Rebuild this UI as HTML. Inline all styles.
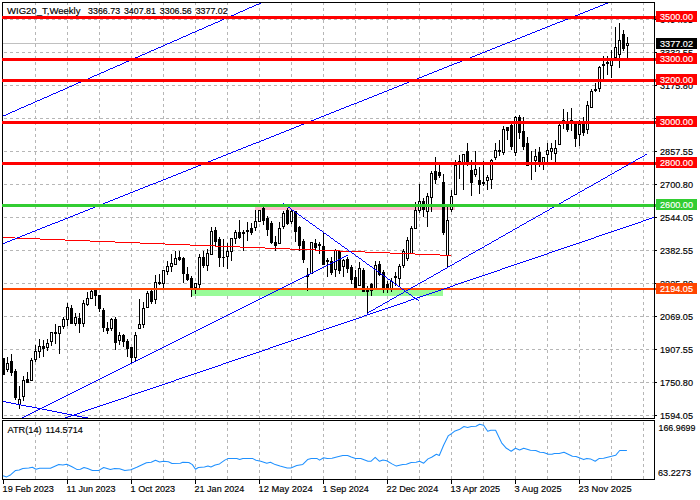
<!DOCTYPE html>
<html><head><meta charset="utf-8"><title>WIG20_T Weekly</title>
<style>html,body{margin:0;padding:0;background:#fff;}svg{display:block;}text{font-family:"Liberation Sans",sans-serif;font-size:9.8px;stroke-width:0.16px;}</style>
</head><body>
<svg width="700" height="500" viewBox="0 0 700 500">
<rect x="0" y="0" width="700" height="500" fill="#ffffff"/>
<g shape-rendering="crispEdges" stroke="#b6b6b6" stroke-width="1" fill="none">
<line x1="35.5" y1="2" x2="35.5" y2="418" stroke-dasharray="3 3"/>
<line x1="35.5" y1="422" x2="35.5" y2="479" stroke-dasharray="3 3"/>
<line x1="67.5" y1="2" x2="67.5" y2="418" stroke-dasharray="3 3"/>
<line x1="67.5" y1="422" x2="67.5" y2="479" stroke-dasharray="3 3"/>
<line x1="99.5" y1="2" x2="99.5" y2="418" stroke-dasharray="3 3"/>
<line x1="99.5" y1="422" x2="99.5" y2="479" stroke-dasharray="3 3"/>
<line x1="131.5" y1="2" x2="131.5" y2="418" stroke-dasharray="3 3"/>
<line x1="131.5" y1="422" x2="131.5" y2="479" stroke-dasharray="3 3"/>
<line x1="163.5" y1="2" x2="163.5" y2="418" stroke-dasharray="3 3"/>
<line x1="163.5" y1="422" x2="163.5" y2="479" stroke-dasharray="3 3"/>
<line x1="195.5" y1="2" x2="195.5" y2="418" stroke-dasharray="3 3"/>
<line x1="195.5" y1="422" x2="195.5" y2="479" stroke-dasharray="3 3"/>
<line x1="227.5" y1="2" x2="227.5" y2="418" stroke-dasharray="3 3"/>
<line x1="227.5" y1="422" x2="227.5" y2="479" stroke-dasharray="3 3"/>
<line x1="259.5" y1="2" x2="259.5" y2="418" stroke-dasharray="3 3"/>
<line x1="259.5" y1="422" x2="259.5" y2="479" stroke-dasharray="3 3"/>
<line x1="291.5" y1="2" x2="291.5" y2="418" stroke-dasharray="3 3"/>
<line x1="291.5" y1="422" x2="291.5" y2="479" stroke-dasharray="3 3"/>
<line x1="323.5" y1="2" x2="323.5" y2="418" stroke-dasharray="3 3"/>
<line x1="323.5" y1="422" x2="323.5" y2="479" stroke-dasharray="3 3"/>
<line x1="355.5" y1="2" x2="355.5" y2="418" stroke-dasharray="3 3"/>
<line x1="355.5" y1="422" x2="355.5" y2="479" stroke-dasharray="3 3"/>
<line x1="387.5" y1="2" x2="387.5" y2="418" stroke-dasharray="3 3"/>
<line x1="387.5" y1="422" x2="387.5" y2="479" stroke-dasharray="3 3"/>
<line x1="419.5" y1="2" x2="419.5" y2="418" stroke-dasharray="3 3"/>
<line x1="419.5" y1="422" x2="419.5" y2="479" stroke-dasharray="3 3"/>
<line x1="451.5" y1="2" x2="451.5" y2="418" stroke-dasharray="3 3"/>
<line x1="451.5" y1="422" x2="451.5" y2="479" stroke-dasharray="3 3"/>
<line x1="483.5" y1="2" x2="483.5" y2="418" stroke-dasharray="3 3"/>
<line x1="483.5" y1="422" x2="483.5" y2="479" stroke-dasharray="3 3"/>
<line x1="515.5" y1="2" x2="515.5" y2="418" stroke-dasharray="3 3"/>
<line x1="515.5" y1="422" x2="515.5" y2="479" stroke-dasharray="3 3"/>
<line x1="547.5" y1="2" x2="547.5" y2="418" stroke-dasharray="3 3"/>
<line x1="547.5" y1="422" x2="547.5" y2="479" stroke-dasharray="3 3"/>
<line x1="579.5" y1="2" x2="579.5" y2="418" stroke-dasharray="3 3"/>
<line x1="579.5" y1="422" x2="579.5" y2="479" stroke-dasharray="3 3"/>
<line x1="611.5" y1="2" x2="611.5" y2="418" stroke-dasharray="3 3"/>
<line x1="611.5" y1="422" x2="611.5" y2="479" stroke-dasharray="3 3"/>
<line x1="643.5" y1="2" x2="643.5" y2="418" stroke-dasharray="3 3"/>
<line x1="643.5" y1="422" x2="643.5" y2="479" stroke-dasharray="3 3"/>
<line x1="4" y1="19.5" x2="654" y2="19.5" stroke-dasharray="3 3"/>
<line x1="4" y1="52.5" x2="654" y2="52.5" stroke-dasharray="3 3"/>
<line x1="4" y1="85.5" x2="654" y2="85.5" stroke-dasharray="3 3"/>
<line x1="4" y1="118.5" x2="654" y2="118.5" stroke-dasharray="3 3"/>
<line x1="4" y1="151.5" x2="654" y2="151.5" stroke-dasharray="3 3"/>
<line x1="4" y1="184.5" x2="654" y2="184.5" stroke-dasharray="3 3"/>
<line x1="4" y1="217.5" x2="654" y2="217.5" stroke-dasharray="3 3"/>
<line x1="4" y1="250.5" x2="654" y2="250.5" stroke-dasharray="3 3"/>
<line x1="4" y1="283.5" x2="654" y2="283.5" stroke-dasharray="3 3"/>
<line x1="4" y1="316.5" x2="654" y2="316.5" stroke-dasharray="3 3"/>
<line x1="4" y1="349.5" x2="654" y2="349.5" stroke-dasharray="3 3"/>
<line x1="4" y1="382.5" x2="654" y2="382.5" stroke-dasharray="3 3"/>
<line x1="4" y1="415.5" x2="654" y2="415.5" stroke-dasharray="3 3"/>
</g>
<rect x="3" y="43" width="651" height="1" fill="#c0c0c0" shape-rendering="crispEdges"/>
<g shape-rendering="crispEdges">
<rect x="255" y="207" width="200" height="3" fill="#ffb9c9"/>
<rect x="192" y="290" width="251" height="6" fill="#98fb98"/>
</g>
<g shape-rendering="crispEdges">
<rect x="3" y="358" width="1" height="17" fill="#000"/>
<rect x="2" y="358" width="3" height="17" fill="#000"/>
<rect x="7" y="357" width="1" height="15" fill="#000"/>
<rect x="6" y="363" width="3" height="7" fill="#000"/>
<rect x="7" y="364" width="1" height="5" fill="#fff"/>
<rect x="11" y="354" width="1" height="22" fill="#000"/>
<rect x="10" y="361" width="3" height="12" fill="#000"/>
<rect x="15" y="369" width="1" height="31" fill="#000"/>
<rect x="14" y="371" width="3" height="27" fill="#000"/>
<rect x="19" y="386" width="1" height="23" fill="#000"/>
<rect x="18" y="399" width="3" height="6" fill="#000"/>
<rect x="19" y="400" width="1" height="4" fill="#fff"/>
<rect x="23" y="376" width="1" height="25" fill="#000"/>
<rect x="22" y="380" width="3" height="17" fill="#000"/>
<rect x="23" y="381" width="1" height="15" fill="#fff"/>
<rect x="27" y="372" width="1" height="11" fill="#000"/>
<rect x="26" y="379" width="3" height="4" fill="#000"/>
<rect x="31" y="358" width="1" height="23" fill="#000"/>
<rect x="30" y="360" width="3" height="21" fill="#000"/>
<rect x="31" y="361" width="1" height="19" fill="#fff"/>
<rect x="35" y="345" width="1" height="17" fill="#000"/>
<rect x="34" y="351" width="3" height="9" fill="#000"/>
<rect x="35" y="352" width="1" height="7" fill="#fff"/>
<rect x="39" y="339" width="1" height="19" fill="#000"/>
<rect x="38" y="346" width="3" height="6" fill="#000"/>
<rect x="39" y="347" width="1" height="4" fill="#fff"/>
<rect x="43" y="340" width="1" height="17" fill="#000"/>
<rect x="42" y="346" width="3" height="3" fill="#000"/>
<rect x="47" y="339" width="1" height="12" fill="#000"/>
<rect x="46" y="343" width="3" height="5" fill="#000"/>
<rect x="47" y="344" width="1" height="3" fill="#fff"/>
<rect x="51" y="332" width="1" height="14" fill="#000"/>
<rect x="50" y="332" width="3" height="10" fill="#000"/>
<rect x="51" y="333" width="1" height="8" fill="#fff"/>
<rect x="55" y="324" width="1" height="20" fill="#000"/>
<rect x="54" y="332" width="3" height="2" fill="#000"/>
<rect x="59" y="326" width="1" height="28" fill="#000"/>
<rect x="58" y="326" width="3" height="8" fill="#000"/>
<rect x="59" y="327" width="1" height="6" fill="#fff"/>
<rect x="63" y="317" width="1" height="12" fill="#000"/>
<rect x="62" y="319" width="3" height="8" fill="#000"/>
<rect x="63" y="320" width="1" height="6" fill="#fff"/>
<rect x="67" y="303" width="1" height="23" fill="#000"/>
<rect x="66" y="307" width="3" height="13" fill="#000"/>
<rect x="67" y="308" width="1" height="11" fill="#fff"/>
<rect x="71" y="305" width="1" height="19" fill="#000"/>
<rect x="70" y="308" width="3" height="16" fill="#000"/>
<rect x="75" y="313" width="1" height="13" fill="#000"/>
<rect x="74" y="317" width="3" height="7" fill="#000"/>
<rect x="75" y="318" width="1" height="5" fill="#fff"/>
<rect x="79" y="313" width="1" height="20" fill="#000"/>
<rect x="78" y="318" width="3" height="6" fill="#000"/>
<rect x="83" y="300" width="1" height="27" fill="#000"/>
<rect x="82" y="303" width="3" height="21" fill="#000"/>
<rect x="83" y="304" width="1" height="19" fill="#fff"/>
<rect x="87" y="292" width="1" height="14" fill="#000"/>
<rect x="86" y="298" width="3" height="7" fill="#000"/>
<rect x="87" y="299" width="1" height="5" fill="#fff"/>
<rect x="91" y="290" width="1" height="9" fill="#000"/>
<rect x="90" y="291" width="3" height="8" fill="#000"/>
<rect x="91" y="292" width="1" height="6" fill="#fff"/>
<rect x="95" y="289" width="1" height="17" fill="#000"/>
<rect x="94" y="290" width="3" height="6" fill="#000"/>
<rect x="99" y="295" width="1" height="17" fill="#000"/>
<rect x="98" y="295" width="3" height="14" fill="#000"/>
<rect x="103" y="308" width="1" height="24" fill="#000"/>
<rect x="102" y="310" width="3" height="18" fill="#000"/>
<rect x="107" y="322" width="1" height="12" fill="#000"/>
<rect x="106" y="328" width="3" height="3" fill="#000"/>
<rect x="111" y="318" width="1" height="13" fill="#000"/>
<rect x="110" y="319" width="3" height="10" fill="#000"/>
<rect x="111" y="320" width="1" height="8" fill="#fff"/>
<rect x="115" y="317" width="1" height="33" fill="#000"/>
<rect x="114" y="319" width="3" height="24" fill="#000"/>
<rect x="119" y="332" width="1" height="13" fill="#000"/>
<rect x="118" y="335" width="3" height="6" fill="#000"/>
<rect x="119" y="336" width="1" height="4" fill="#fff"/>
<rect x="123" y="334" width="1" height="13" fill="#000"/>
<rect x="122" y="335" width="3" height="7" fill="#000"/>
<rect x="127" y="339" width="1" height="18" fill="#000"/>
<rect x="126" y="341" width="3" height="8" fill="#000"/>
<rect x="131" y="347" width="1" height="16" fill="#000"/>
<rect x="130" y="347" width="3" height="11" fill="#000"/>
<rect x="135" y="332" width="1" height="29" fill="#000"/>
<rect x="134" y="335" width="3" height="23" fill="#000"/>
<rect x="135" y="336" width="1" height="21" fill="#fff"/>
<rect x="139" y="299" width="1" height="30" fill="#000"/>
<rect x="138" y="324" width="3" height="5" fill="#000"/>
<rect x="139" y="325" width="1" height="3" fill="#fff"/>
<rect x="143" y="302" width="1" height="26" fill="#000"/>
<rect x="142" y="308" width="3" height="17" fill="#000"/>
<rect x="143" y="309" width="1" height="15" fill="#fff"/>
<rect x="147" y="291" width="1" height="17" fill="#000"/>
<rect x="146" y="293" width="3" height="15" fill="#000"/>
<rect x="147" y="294" width="1" height="13" fill="#fff"/>
<rect x="151" y="290" width="1" height="14" fill="#000"/>
<rect x="150" y="291" width="3" height="11" fill="#000"/>
<rect x="155" y="275" width="1" height="29" fill="#000"/>
<rect x="154" y="282" width="3" height="18" fill="#000"/>
<rect x="155" y="283" width="1" height="16" fill="#fff"/>
<rect x="159" y="274" width="1" height="11" fill="#000"/>
<rect x="158" y="282" width="3" height="2" fill="#000"/>
<rect x="163" y="270" width="1" height="18" fill="#000"/>
<rect x="162" y="270" width="3" height="14" fill="#000"/>
<rect x="163" y="271" width="1" height="12" fill="#fff"/>
<rect x="167" y="261" width="1" height="14" fill="#000"/>
<rect x="166" y="266" width="3" height="6" fill="#000"/>
<rect x="167" y="267" width="1" height="4" fill="#fff"/>
<rect x="171" y="254" width="1" height="18" fill="#000"/>
<rect x="170" y="263" width="3" height="4" fill="#000"/>
<rect x="171" y="264" width="1" height="2" fill="#fff"/>
<rect x="175" y="251" width="1" height="14" fill="#000"/>
<rect x="174" y="258" width="3" height="7" fill="#000"/>
<rect x="175" y="259" width="1" height="5" fill="#fff"/>
<rect x="179" y="251" width="1" height="10" fill="#000"/>
<rect x="178" y="257" width="3" height="3" fill="#000"/>
<rect x="183" y="257" width="1" height="26" fill="#000"/>
<rect x="182" y="258" width="3" height="16" fill="#000"/>
<rect x="187" y="267" width="1" height="14" fill="#000"/>
<rect x="186" y="274" width="3" height="6" fill="#000"/>
<rect x="191" y="276" width="1" height="21" fill="#000"/>
<rect x="190" y="278" width="3" height="11" fill="#000"/>
<rect x="195" y="283" width="1" height="11" fill="#000"/>
<rect x="194" y="283" width="3" height="5" fill="#000"/>
<rect x="195" y="284" width="1" height="3" fill="#fff"/>
<rect x="199" y="254" width="1" height="34" fill="#000"/>
<rect x="198" y="257" width="3" height="28" fill="#000"/>
<rect x="199" y="258" width="1" height="26" fill="#fff"/>
<rect x="203" y="251" width="1" height="17" fill="#000"/>
<rect x="202" y="257" width="3" height="9" fill="#000"/>
<rect x="207" y="249" width="1" height="22" fill="#000"/>
<rect x="206" y="253" width="3" height="13" fill="#000"/>
<rect x="207" y="254" width="1" height="11" fill="#fff"/>
<rect x="211" y="227" width="1" height="28" fill="#000"/>
<rect x="210" y="231" width="3" height="24" fill="#000"/>
<rect x="211" y="232" width="1" height="22" fill="#fff"/>
<rect x="215" y="227" width="1" height="20" fill="#000"/>
<rect x="214" y="230" width="3" height="12" fill="#000"/>
<rect x="219" y="237" width="1" height="30" fill="#000"/>
<rect x="218" y="239" width="3" height="19" fill="#000"/>
<rect x="223" y="239" width="1" height="28" fill="#000"/>
<rect x="222" y="257" width="3" height="1" fill="#000"/>
<rect x="227" y="243" width="1" height="26" fill="#000"/>
<rect x="226" y="251" width="3" height="6" fill="#000"/>
<rect x="227" y="252" width="1" height="4" fill="#fff"/>
<rect x="231" y="238" width="1" height="23" fill="#000"/>
<rect x="230" y="238" width="3" height="14" fill="#000"/>
<rect x="231" y="239" width="1" height="12" fill="#fff"/>
<rect x="235" y="230" width="1" height="14" fill="#000"/>
<rect x="234" y="232" width="3" height="7" fill="#000"/>
<rect x="235" y="233" width="1" height="5" fill="#fff"/>
<rect x="239" y="220" width="1" height="19" fill="#000"/>
<rect x="238" y="232" width="3" height="6" fill="#000"/>
<rect x="243" y="230" width="1" height="21" fill="#000"/>
<rect x="242" y="232" width="3" height="2" fill="#000"/>
<rect x="247" y="222" width="1" height="19" fill="#000"/>
<rect x="246" y="230" width="3" height="2" fill="#000"/>
<rect x="251" y="223" width="1" height="12" fill="#000"/>
<rect x="250" y="228" width="3" height="5" fill="#000"/>
<rect x="255" y="210" width="1" height="21" fill="#000"/>
<rect x="254" y="221" width="3" height="7" fill="#000"/>
<rect x="255" y="222" width="1" height="5" fill="#fff"/>
<rect x="259" y="210" width="1" height="12" fill="#000"/>
<rect x="258" y="210" width="3" height="12" fill="#000"/>
<rect x="259" y="211" width="1" height="10" fill="#fff"/>
<rect x="263" y="207" width="1" height="18" fill="#000"/>
<rect x="262" y="208" width="3" height="13" fill="#000"/>
<rect x="267" y="216" width="1" height="20" fill="#000"/>
<rect x="266" y="218" width="3" height="12" fill="#000"/>
<rect x="271" y="221" width="1" height="23" fill="#000"/>
<rect x="270" y="223" width="3" height="20" fill="#000"/>
<rect x="275" y="236" width="1" height="15" fill="#000"/>
<rect x="274" y="242" width="3" height="4" fill="#000"/>
<rect x="279" y="222" width="1" height="22" fill="#000"/>
<rect x="278" y="228" width="3" height="16" fill="#000"/>
<rect x="279" y="229" width="1" height="14" fill="#fff"/>
<rect x="283" y="211" width="1" height="18" fill="#000"/>
<rect x="282" y="213" width="3" height="14" fill="#000"/>
<rect x="283" y="214" width="1" height="12" fill="#fff"/>
<rect x="287" y="208" width="1" height="17" fill="#000"/>
<rect x="286" y="210" width="3" height="14" fill="#000"/>
<rect x="291" y="210" width="1" height="14" fill="#000"/>
<rect x="290" y="211" width="3" height="11" fill="#000"/>
<rect x="291" y="212" width="1" height="9" fill="#fff"/>
<rect x="295" y="211" width="1" height="31" fill="#000"/>
<rect x="294" y="211" width="3" height="21" fill="#000"/>
<rect x="299" y="226" width="1" height="25" fill="#000"/>
<rect x="298" y="227" width="3" height="19" fill="#000"/>
<rect x="303" y="239" width="1" height="24" fill="#000"/>
<rect x="302" y="241" width="3" height="19" fill="#000"/>
<rect x="307" y="268" width="1" height="23" fill="#000"/>
<rect x="306" y="275" width="3" height="2" fill="#000"/>
<rect x="311" y="242" width="1" height="32" fill="#000"/>
<rect x="310" y="242" width="3" height="32" fill="#000"/>
<rect x="311" y="243" width="1" height="30" fill="#fff"/>
<rect x="315" y="239" width="1" height="11" fill="#000"/>
<rect x="314" y="243" width="3" height="5" fill="#000"/>
<rect x="319" y="242" width="1" height="12" fill="#000"/>
<rect x="318" y="244" width="3" height="2" fill="#000"/>
<rect x="323" y="233" width="1" height="32" fill="#000"/>
<rect x="322" y="246" width="3" height="19" fill="#000"/>
<rect x="327" y="258" width="1" height="19" fill="#000"/>
<rect x="326" y="260" width="3" height="2" fill="#000"/>
<rect x="331" y="257" width="1" height="18" fill="#000"/>
<rect x="330" y="261" width="3" height="12" fill="#000"/>
<rect x="335" y="249" width="1" height="28" fill="#000"/>
<rect x="334" y="250" width="3" height="20" fill="#000"/>
<rect x="335" y="251" width="1" height="18" fill="#fff"/>
<rect x="339" y="251" width="1" height="23" fill="#000"/>
<rect x="338" y="251" width="3" height="20" fill="#000"/>
<rect x="343" y="259" width="1" height="18" fill="#000"/>
<rect x="342" y="260" width="3" height="7" fill="#000"/>
<rect x="343" y="261" width="1" height="5" fill="#fff"/>
<rect x="347" y="257" width="1" height="16" fill="#000"/>
<rect x="346" y="259" width="3" height="10" fill="#000"/>
<rect x="351" y="265" width="1" height="19" fill="#000"/>
<rect x="350" y="267" width="3" height="13" fill="#000"/>
<rect x="355" y="270" width="1" height="19" fill="#000"/>
<rect x="354" y="277" width="3" height="12" fill="#000"/>
<rect x="359" y="262" width="1" height="24" fill="#000"/>
<rect x="358" y="268" width="3" height="18" fill="#000"/>
<rect x="359" y="269" width="1" height="16" fill="#fff"/>
<rect x="363" y="268" width="1" height="24" fill="#000"/>
<rect x="362" y="270" width="3" height="22" fill="#000"/>
<rect x="367" y="286" width="1" height="27" fill="#000"/>
<rect x="366" y="290" width="3" height="2" fill="#000"/>
<rect x="371" y="283" width="1" height="13" fill="#000"/>
<rect x="370" y="284" width="3" height="7" fill="#000"/>
<rect x="375" y="261" width="1" height="28" fill="#000"/>
<rect x="374" y="265" width="3" height="24" fill="#000"/>
<rect x="375" y="266" width="1" height="22" fill="#fff"/>
<rect x="379" y="261" width="1" height="15" fill="#000"/>
<rect x="378" y="264" width="3" height="11" fill="#000"/>
<rect x="383" y="270" width="1" height="23" fill="#000"/>
<rect x="382" y="272" width="3" height="17" fill="#000"/>
<rect x="387" y="281" width="1" height="12" fill="#000"/>
<rect x="386" y="284" width="3" height="5" fill="#000"/>
<rect x="391" y="278" width="1" height="14" fill="#000"/>
<rect x="390" y="281" width="3" height="8" fill="#000"/>
<rect x="391" y="282" width="1" height="6" fill="#fff"/>
<rect x="395" y="272" width="1" height="14" fill="#000"/>
<rect x="394" y="276" width="3" height="2" fill="#000"/>
<rect x="399" y="264" width="1" height="23" fill="#000"/>
<rect x="398" y="266" width="3" height="13" fill="#000"/>
<rect x="399" y="267" width="1" height="11" fill="#fff"/>
<rect x="403" y="249" width="1" height="19" fill="#000"/>
<rect x="402" y="251" width="3" height="15" fill="#000"/>
<rect x="403" y="252" width="1" height="13" fill="#fff"/>
<rect x="407" y="237" width="1" height="24" fill="#000"/>
<rect x="406" y="240" width="3" height="19" fill="#000"/>
<rect x="407" y="241" width="1" height="17" fill="#fff"/>
<rect x="411" y="226" width="1" height="28" fill="#000"/>
<rect x="410" y="228" width="3" height="26" fill="#000"/>
<rect x="411" y="229" width="1" height="24" fill="#fff"/>
<rect x="415" y="202" width="1" height="27" fill="#000"/>
<rect x="414" y="210" width="3" height="19" fill="#000"/>
<rect x="415" y="211" width="1" height="17" fill="#fff"/>
<rect x="419" y="184" width="1" height="29" fill="#000"/>
<rect x="418" y="201" width="3" height="10" fill="#000"/>
<rect x="419" y="202" width="1" height="8" fill="#fff"/>
<rect x="423" y="198" width="1" height="19" fill="#000"/>
<rect x="422" y="201" width="3" height="9" fill="#000"/>
<rect x="427" y="193" width="1" height="34" fill="#000"/>
<rect x="426" y="196" width="3" height="16" fill="#000"/>
<rect x="427" y="197" width="1" height="14" fill="#fff"/>
<rect x="431" y="171" width="1" height="41" fill="#000"/>
<rect x="430" y="173" width="3" height="25" fill="#000"/>
<rect x="431" y="174" width="1" height="23" fill="#fff"/>
<rect x="435" y="157" width="1" height="27" fill="#000"/>
<rect x="434" y="171" width="3" height="9" fill="#000"/>
<rect x="439" y="165" width="1" height="13" fill="#000"/>
<rect x="438" y="172" width="3" height="4" fill="#000"/>
<rect x="443" y="174" width="1" height="61" fill="#000"/>
<rect x="442" y="182" width="3" height="51" fill="#000"/>
<rect x="447" y="207" width="1" height="61" fill="#000"/>
<rect x="446" y="220" width="3" height="36" fill="#000"/>
<rect x="447" y="221" width="1" height="34" fill="#fff"/>
<rect x="451" y="190" width="1" height="22" fill="#000"/>
<rect x="450" y="196" width="3" height="14" fill="#000"/>
<rect x="451" y="197" width="1" height="12" fill="#fff"/>
<rect x="455" y="160" width="1" height="35" fill="#000"/>
<rect x="454" y="165" width="3" height="30" fill="#000"/>
<rect x="455" y="166" width="1" height="28" fill="#fff"/>
<rect x="459" y="155" width="1" height="24" fill="#000"/>
<rect x="458" y="161" width="3" height="2" fill="#000"/>
<rect x="463" y="154" width="1" height="36" fill="#000"/>
<rect x="462" y="154" width="3" height="9" fill="#000"/>
<rect x="463" y="155" width="1" height="7" fill="#fff"/>
<rect x="467" y="143" width="1" height="23" fill="#000"/>
<rect x="466" y="151" width="3" height="12" fill="#000"/>
<rect x="471" y="160" width="1" height="36" fill="#000"/>
<rect x="470" y="170" width="3" height="13" fill="#000"/>
<rect x="475" y="151" width="1" height="26" fill="#000"/>
<rect x="474" y="169" width="3" height="6" fill="#000"/>
<rect x="475" y="170" width="1" height="4" fill="#fff"/>
<rect x="479" y="167" width="1" height="27" fill="#000"/>
<rect x="478" y="180" width="3" height="5" fill="#000"/>
<rect x="483" y="161" width="1" height="25" fill="#000"/>
<rect x="482" y="182" width="3" height="2" fill="#000"/>
<rect x="487" y="175" width="1" height="15" fill="#000"/>
<rect x="486" y="177" width="3" height="4" fill="#000"/>
<rect x="487" y="178" width="1" height="2" fill="#fff"/>
<rect x="491" y="159" width="1" height="30" fill="#000"/>
<rect x="490" y="160" width="3" height="20" fill="#000"/>
<rect x="491" y="161" width="1" height="18" fill="#fff"/>
<rect x="495" y="143" width="1" height="17" fill="#000"/>
<rect x="494" y="150" width="3" height="8" fill="#000"/>
<rect x="495" y="151" width="1" height="6" fill="#fff"/>
<rect x="499" y="140" width="1" height="16" fill="#000"/>
<rect x="498" y="150" width="3" height="2" fill="#000"/>
<rect x="503" y="126" width="1" height="29" fill="#000"/>
<rect x="502" y="129" width="3" height="24" fill="#000"/>
<rect x="503" y="130" width="1" height="22" fill="#fff"/>
<rect x="507" y="127" width="1" height="13" fill="#000"/>
<rect x="506" y="127" width="3" height="4" fill="#000"/>
<rect x="511" y="124" width="1" height="26" fill="#000"/>
<rect x="510" y="125" width="3" height="22" fill="#000"/>
<rect x="515" y="116" width="1" height="40" fill="#000"/>
<rect x="514" y="117" width="3" height="36" fill="#000"/>
<rect x="515" y="118" width="1" height="34" fill="#fff"/>
<rect x="519" y="115" width="1" height="24" fill="#000"/>
<rect x="518" y="117" width="3" height="16" fill="#000"/>
<rect x="523" y="117" width="1" height="33" fill="#000"/>
<rect x="522" y="131" width="3" height="16" fill="#000"/>
<rect x="527" y="137" width="1" height="29" fill="#000"/>
<rect x="526" y="143" width="3" height="23" fill="#000"/>
<rect x="531" y="151" width="1" height="29" fill="#000"/>
<rect x="530" y="163" width="3" height="1" fill="#000"/>
<rect x="535" y="149" width="1" height="23" fill="#000"/>
<rect x="534" y="156" width="3" height="5" fill="#000"/>
<rect x="535" y="157" width="1" height="3" fill="#fff"/>
<rect x="539" y="147" width="1" height="20" fill="#000"/>
<rect x="538" y="152" width="3" height="12" fill="#000"/>
<rect x="543" y="157" width="1" height="13" fill="#000"/>
<rect x="542" y="157" width="3" height="7" fill="#000"/>
<rect x="543" y="158" width="1" height="5" fill="#fff"/>
<rect x="547" y="143" width="1" height="19" fill="#000"/>
<rect x="546" y="150" width="3" height="5" fill="#000"/>
<rect x="547" y="151" width="1" height="3" fill="#fff"/>
<rect x="551" y="143" width="1" height="17" fill="#000"/>
<rect x="550" y="148" width="3" height="4" fill="#000"/>
<rect x="551" y="149" width="1" height="2" fill="#fff"/>
<rect x="555" y="140" width="1" height="22" fill="#000"/>
<rect x="554" y="148" width="3" height="6" fill="#000"/>
<rect x="555" y="149" width="1" height="4" fill="#fff"/>
<rect x="559" y="124" width="1" height="21" fill="#000"/>
<rect x="558" y="125" width="3" height="20" fill="#000"/>
<rect x="559" y="126" width="1" height="18" fill="#fff"/>
<rect x="563" y="109" width="1" height="20" fill="#000"/>
<rect x="562" y="120" width="3" height="4" fill="#000"/>
<rect x="567" y="112" width="1" height="20" fill="#000"/>
<rect x="566" y="124" width="3" height="6" fill="#000"/>
<rect x="571" y="108" width="1" height="23" fill="#000"/>
<rect x="570" y="120" width="3" height="3" fill="#000"/>
<rect x="575" y="121" width="1" height="26" fill="#000"/>
<rect x="574" y="124" width="3" height="15" fill="#000"/>
<rect x="579" y="120" width="1" height="26" fill="#000"/>
<rect x="578" y="124" width="3" height="11" fill="#000"/>
<rect x="579" y="125" width="1" height="9" fill="#fff"/>
<rect x="583" y="117" width="1" height="19" fill="#000"/>
<rect x="582" y="124" width="3" height="9" fill="#000"/>
<rect x="587" y="101" width="1" height="33" fill="#000"/>
<rect x="586" y="105" width="3" height="25" fill="#000"/>
<rect x="587" y="106" width="1" height="23" fill="#fff"/>
<rect x="591" y="89" width="1" height="19" fill="#000"/>
<rect x="590" y="91" width="3" height="17" fill="#000"/>
<rect x="591" y="92" width="1" height="15" fill="#fff"/>
<rect x="595" y="83" width="1" height="9" fill="#000"/>
<rect x="594" y="89" width="3" height="2" fill="#000"/>
<rect x="599" y="66" width="1" height="26" fill="#000"/>
<rect x="598" y="67" width="3" height="22" fill="#000"/>
<rect x="599" y="68" width="1" height="20" fill="#fff"/>
<rect x="603" y="56" width="1" height="23" fill="#000"/>
<rect x="602" y="64" width="3" height="2" fill="#000"/>
<rect x="607" y="56" width="1" height="19" fill="#000"/>
<rect x="606" y="62" width="3" height="2" fill="#000"/>
<rect x="611" y="50" width="1" height="28" fill="#000"/>
<rect x="610" y="59" width="3" height="7" fill="#000"/>
<rect x="611" y="60" width="1" height="5" fill="#fff"/>
<rect x="615" y="27" width="1" height="32" fill="#000"/>
<rect x="614" y="47" width="3" height="11" fill="#000"/>
<rect x="615" y="48" width="1" height="9" fill="#fff"/>
<rect x="619" y="23" width="1" height="45" fill="#000"/>
<rect x="618" y="40" width="3" height="15" fill="#000"/>
<rect x="619" y="41" width="1" height="13" fill="#fff"/>
<rect x="623" y="30" width="1" height="21" fill="#000"/>
<rect x="622" y="34" width="3" height="15" fill="#000"/>
<rect x="627" y="37" width="1" height="22" fill="#000"/>
<rect x="626" y="43" width="3" height="3" fill="#000"/>
<rect x="627" y="44" width="1" height="1" fill="#fff"/>
</g>
<g shape-rendering="crispEdges" fill="#ff0000">
<rect x="3" y="237" width="12" height="1"/>
<rect x="15" y="238" width="25" height="1"/>
<rect x="40" y="239" width="25" height="1"/>
<rect x="65" y="240" width="25" height="1"/>
<rect x="90" y="241" width="25" height="1"/>
<rect x="115" y="242" width="25" height="1"/>
<rect x="140" y="243" width="25" height="1"/>
<rect x="165" y="244" width="25" height="1"/>
<rect x="190" y="245" width="25" height="1"/>
<rect x="215" y="246" width="25" height="1"/>
<rect x="240" y="247" width="25" height="1"/>
<rect x="265" y="248" width="25" height="1"/>
<rect x="290" y="249" width="25" height="1"/>
<rect x="315" y="250" width="25" height="1"/>
<rect x="340" y="251" width="25" height="1"/>
<rect x="365" y="252" width="25" height="1"/>
<rect x="390" y="253" width="25" height="1"/>
<rect x="415" y="254" width="25" height="1"/>
<rect x="440" y="255" width="11" height="1"/>
</g>
<rect x="2" y="288" width="655" height="2" fill="#ff4500" shape-rendering="crispEdges"/>
<g stroke="#0000ff" stroke-width="1" shape-rendering="crispEdges" fill="none">
<path d="M3 115.5H6M6 114.5H8M8 113.5H10M10 112.5H12M12 111.5H15M15 110.5H17M17 109.5H19M19 108.5H21M21 107.5H24M24 106.5H26M26 105.5H28M28 104.5H31M31 103.5H33M33 102.5H35M35 101.5H37M37 100.5H40M40 99.5H42M42 98.5H44M44 97.5H47M47 96.5H49M49 95.5H51M51 94.5H53M53 93.5H56M56 92.5H58M58 91.5H60M60 90.5H63M63 89.5H65M65 88.5H67M67 87.5H69M69 86.5H72M72 85.5H74M74 84.5H76M76 83.5H78M78 82.5H81M81 81.5H83M83 80.5H85M85 79.5H88M88 78.5H90M90 77.5H92M92 76.5H94M94 75.5H97M97 74.5H99M99 73.5H101M101 72.5H104M104 71.5H106M106 70.5H108M108 69.5H110M110 68.5H113M113 67.5H115M115 66.5H117M117 65.5H120M120 64.5H122M122 63.5H124M124 62.5H126M126 61.5H129M129 60.5H131M131 59.5H133M133 58.5H135M135 57.5H138M138 56.5H140M140 55.5H142M142 54.5H145M145 53.5H147M147 52.5H149M149 51.5H151M151 50.5H154M154 49.5H156M156 48.5H158M158 47.5H161M161 46.5H163M163 45.5H165M165 44.5H167M167 43.5H170M170 42.5H172M172 41.5H174M174 40.5H177M177 39.5H179M179 38.5H181M181 37.5H183M183 36.5H186M186 35.5H188M188 34.5H190M190 33.5H192M192 32.5H195M195 31.5H197M197 30.5H199M199 29.5H202M202 28.5H204M204 27.5H206M206 26.5H208M208 25.5H211M211 24.5H213M213 23.5H215M215 22.5H218M218 21.5H220M220 20.5H222M222 19.5H224M224 18.5H227M227 17.5H229M229 16.5H231M231 15.5H234M234 14.5H236M236 13.5H238M238 12.5H240M240 11.5H243M243 10.5H245M245 9.5H247M247 8.5H249M249 7.5H252M252 6.5H254M254 5.5H256M256 4.5H259M259 3.5H261"/>
<path d="M3 243.5H5M5 242.5H7M7 241.5H10M10 240.5H12M12 239.5H15M15 238.5H17M17 237.5H20M20 236.5H22M22 235.5H25M25 234.5H27M27 233.5H30M30 232.5H32M32 231.5H35M35 230.5H37M37 229.5H40M40 228.5H42M42 227.5H45M45 226.5H47M47 225.5H50M50 224.5H52M52 223.5H55M55 222.5H58M58 221.5H60M60 220.5H63M63 219.5H65M65 218.5H68M68 217.5H70M70 216.5H73M73 215.5H75M75 214.5H78M78 213.5H80M80 212.5H83M83 211.5H85M85 210.5H88M88 209.5H90M90 208.5H93M93 207.5H95M95 206.5H98M98 205.5H100M100 204.5H103M103 203.5H105M105 202.5H108M108 201.5H110M110 200.5H113M113 199.5H115M115 198.5H118M118 197.5H120M120 196.5H123M123 195.5H125M125 194.5H128M128 193.5H130M130 192.5H133M133 191.5H135M135 190.5H138M138 189.5H140M140 188.5H143M143 187.5H145M145 186.5H148M148 185.5H150M150 184.5H153M153 183.5H156M156 182.5H158M158 181.5H161M161 180.5H163M163 179.5H166M166 178.5H168M168 177.5H171M171 176.5H173M173 175.5H176M176 174.5H178M178 173.5H181M181 172.5H183M183 171.5H186M186 170.5H188M188 169.5H191M191 168.5H193M193 167.5H196M196 166.5H198M198 165.5H201M201 164.5H203M203 163.5H206M206 162.5H208M208 161.5H211M211 160.5H213M213 159.5H216M216 158.5H218M218 157.5H221M221 156.5H223M223 155.5H226M226 154.5H228M228 153.5H231M231 152.5H233M233 151.5H236M236 150.5H238M238 149.5H241M241 148.5H243M243 147.5H246M246 146.5H248M248 145.5H251M251 144.5H253M253 143.5H256M256 142.5H259M259 141.5H261M261 140.5H264M264 139.5H266M266 138.5H269M269 137.5H271M271 136.5H274M274 135.5H276M276 134.5H279M279 133.5H281M281 132.5H284M284 131.5H286M286 130.5H289M289 129.5H291M291 128.5H294M294 127.5H296M296 126.5H299M299 125.5H301M301 124.5H304M304 123.5H306M306 122.5H309M309 121.5H311M311 120.5H314M314 119.5H316M316 118.5H319M319 117.5H321M321 116.5H324M324 115.5H326M326 114.5H329M329 113.5H331M331 112.5H334M334 111.5H336M336 110.5H339M339 109.5H341M341 108.5H344M344 107.5H346M346 106.5H349M349 105.5H351M351 104.5H354M354 103.5H357M357 102.5H359M359 101.5H362M362 100.5H364M364 99.5H367M367 98.5H369M369 97.5H372M372 96.5H374M374 95.5H377M377 94.5H379M379 93.5H382M382 92.5H384M384 91.5H387M387 90.5H389M389 89.5H392M392 88.5H394M394 87.5H397M397 86.5H399M399 85.5H402M402 84.5H404M404 83.5H407M407 82.5H409M409 81.5H412M412 80.5H414M414 79.5H417M417 78.5H419M419 77.5H422M422 76.5H424M424 75.5H427M427 74.5H429M429 73.5H432M432 72.5H434M434 71.5H437M437 70.5H439M439 69.5H442M442 68.5H444M444 67.5H447M447 66.5H449M449 65.5H452M452 64.5H454M454 63.5H457M457 62.5H460M460 61.5H462M462 60.5H465M465 59.5H467M467 58.5H470M470 57.5H472M472 56.5H475M475 55.5H477M477 54.5H480M480 53.5H482M482 52.5H485M485 51.5H487M487 50.5H490M490 49.5H492M492 48.5H495M495 47.5H497M497 46.5H500M500 45.5H502M502 44.5H505M505 43.5H507M507 42.5H510M510 41.5H512M512 40.5H515M515 39.5H517M517 38.5H520M520 37.5H522M522 36.5H525M525 35.5H527M527 34.5H530M530 33.5H532M532 32.5H535M535 31.5H537M537 30.5H540M540 29.5H542M542 28.5H545M545 27.5H547M547 26.5H550M550 25.5H552M552 24.5H555M555 23.5H557M557 22.5H560M560 21.5H563M563 20.5H565M565 19.5H568M568 18.5H570M570 17.5H573M573 16.5H575M575 15.5H578M578 14.5H580M580 13.5H583M583 12.5H585M585 11.5H588M588 10.5H590M590 9.5H593M593 8.5H595M595 7.5H598M598 6.5H600M600 5.5H603M603 4.5H605M605 3.5H608"/>
<path d="M22 417.5H24M24 416.5H26M26 415.5H28M28 414.5H30M30 413.5H32M32 412.5H34M34 411.5H36M36 410.5H38M38 409.5H40M40 408.5H42M42 407.5H44M44 406.5H46M46 405.5H48M48 404.5H50M50 403.5H52M52 402.5H54M54 401.5H56M56 400.5H58M58 399.5H60M60 398.5H62M62 397.5H64M64 396.5H66M66 395.5H68M68 394.5H70M70 393.5H72M72 392.5H74M74 391.5H76M76 390.5H78M78 389.5H80M80 388.5H82M82 387.5H84M84 386.5H86M86 385.5H88M88 384.5H90M90 383.5H92M92 382.5H94M94 381.5H96M96 380.5H98M98 379.5H100M100 378.5H102M102 377.5H104M104 376.5H106M106 375.5H108M108 374.5H110M110 373.5H112M112 372.5H114M114 371.5H116M116 370.5H118M118 369.5H120M120 368.5H122M122 367.5H124M124 366.5H126M126 365.5H128M128 364.5H130M130 363.5H132M132 362.5H134M134 361.5H136M136 360.5H138M138 359.5H140M140 358.5H142M142 357.5H144M144 356.5H146M146 355.5H148M148 354.5H150M150 353.5H152M152 352.5H154M154 351.5H156M156 350.5H158M158 349.5H160M160 348.5H162M162 347.5H164M164 346.5H166M166 345.5H168M168 344.5H170M170 343.5H172M172 342.5H174M174 341.5H176M176 340.5H178M178 339.5H180M180 338.5H182M182 337.5H184M184 336.5H186M186 335.5H188M188 334.5H190M190 333.5H192M192 332.5H194M194 331.5H196M196 330.5H198M198 329.5H200M200 328.5H202M202 327.5H204M204 326.5H206M206 325.5H208M208 324.5H210M210 323.5H212M212 322.5H214M214 321.5H216M216 320.5H218M218 319.5H220M220 318.5H222M222 317.5H224M224 316.5H226M226 315.5H228M228 314.5H230M230 313.5H232M232 312.5H234M234 311.5H236M236 310.5H238M238 309.5H240M240 308.5H242M242 307.5H244M244 306.5H246M246 305.5H248M248 304.5H250M250 303.5H252M252 302.5H254M254 301.5H256M256 300.5H258M258 299.5H260M260 298.5H262M262 297.5H264M264 296.5H266M266 295.5H268M268 294.5H270M270 293.5H272M272 292.5H274M274 291.5H276M276 290.5H278M278 289.5H280M280 288.5H282M282 287.5H284M284 286.5H286M286 285.5H288M288 284.5H290M290 283.5H292M292 282.5H294M294 281.5H296M296 280.5H298M298 279.5H300M300 278.5H302M302 277.5H304M304 276.5H306M306 275.5H308M308 274.5H310M310 273.5H312M312 272.5H314M314 271.5H316M316 270.5H318M318 269.5H320M320 268.5H322M322 267.5H324M324 266.5H326M326 265.5H328M328 264.5H330M330 263.5H332M332 262.5H334M334 261.5H336M336 260.5H338M338 259.5H340M340 258.5H342M342 257.5H344M344 256.5H346M346 255.5H348"/>
<path d="M65 417.5H68M68 416.5H71M71 415.5H74M74 414.5H77M77 413.5H80M80 412.5H82M82 411.5H85M85 410.5H88M88 409.5H91M91 408.5H94M94 407.5H97M97 406.5H100M100 405.5H103M103 404.5H106M106 403.5H109M109 402.5H112M112 401.5H115M115 400.5H118M118 399.5H121M121 398.5H124M124 397.5H127M127 396.5H129M129 395.5H132M132 394.5H135M135 393.5H138M138 392.5H141M141 391.5H144M144 390.5H147M147 389.5H150M150 388.5H153M153 387.5H156M156 386.5H159M159 385.5H162M162 384.5H165M165 383.5H168M168 382.5H171M171 381.5H174M174 380.5H176M176 379.5H179M179 378.5H182M182 377.5H185M185 376.5H188M188 375.5H191M191 374.5H194M194 373.5H197M197 372.5H200M200 371.5H203M203 370.5H206M206 369.5H209M209 368.5H212M212 367.5H215M215 366.5H218M218 365.5H221M221 364.5H223M223 363.5H226M226 362.5H229M229 361.5H232M232 360.5H235M235 359.5H238M238 358.5H241M241 357.5H244M244 356.5H247M247 355.5H250M250 354.5H253M253 353.5H256M256 352.5H259M259 351.5H262M262 350.5H265M265 349.5H268M268 348.5H270M270 347.5H273M273 346.5H276M276 345.5H279M279 344.5H282M282 343.5H285M285 342.5H288M288 341.5H291M291 340.5H294M294 339.5H297M297 338.5H300M300 337.5H303M303 336.5H306M306 335.5H309M309 334.5H312M312 333.5H315M315 332.5H317M317 331.5H320M320 330.5H323M323 329.5H326M326 328.5H329M329 327.5H332M332 326.5H335M335 325.5H338M338 324.5H341M341 323.5H344M344 322.5H347M347 321.5H350M350 320.5H353M353 319.5H356M356 318.5H359M359 317.5H362M362 316.5H364M364 315.5H367M367 314.5H370M370 313.5H373M373 312.5H376M376 311.5H379M379 310.5H382M382 309.5H385M385 308.5H388M388 307.5H391M391 306.5H394M394 305.5H397M397 304.5H400M400 303.5H403M403 302.5H406M406 301.5H408M408 300.5H411M411 299.5H414M414 298.5H417M417 297.5H420M420 296.5H423M423 295.5H426M426 294.5H429M429 293.5H432M432 292.5H435M435 291.5H438M438 290.5H441M441 289.5H444M444 288.5H447M447 287.5H450M450 286.5H453M453 285.5H455M455 284.5H458M458 283.5H461M461 282.5H464M464 281.5H467M467 280.5H470M470 279.5H473M473 278.5H476M476 277.5H479M479 276.5H482M482 275.5H485M485 274.5H488M488 273.5H491M491 272.5H494M494 271.5H497M497 270.5H500M500 269.5H502M502 268.5H505M505 267.5H508M508 266.5H511M511 265.5H514M514 264.5H517M517 263.5H520M520 262.5H523M523 261.5H526M526 260.5H529M529 259.5H532M532 258.5H535M535 257.5H538M538 256.5H541M541 255.5H544M544 254.5H547M547 253.5H549M549 252.5H552M552 251.5H555M555 250.5H558M558 249.5H561M561 248.5H564M564 247.5H567M567 246.5H570M570 245.5H573M573 244.5H576M576 243.5H579M579 242.5H582M582 241.5H585M585 240.5H588M588 239.5H591M591 238.5H594M594 237.5H596M596 236.5H599M599 235.5H602M602 234.5H605M605 233.5H608M608 232.5H611M611 231.5H614M614 230.5H617M617 229.5H620M620 228.5H623M623 227.5H626M626 226.5H629M629 225.5H632M632 224.5H635M635 223.5H638M638 222.5H641M641 221.5H643M643 220.5H646M646 219.5H649M649 218.5H652M652 217.5H655"/>
<path d="M3 401.5H6M6 402.5H11M11 403.5H16M16 404.5H21M21 405.5H26M26 406.5H32M32 407.5H37M37 408.5H42M42 409.5H47M47 410.5H52M52 411.5H57M57 412.5H62M62 413.5H67M67 414.5H72M72 415.5H77M77 416.5H82M82 417.5H88"/>
<path d="M283 203.5H284M284 204.5H285M285 205.5H287M287 206.5H288M288 207.5H290M290 208.5H291M291 209.5H292M292 210.5H294M294 211.5H295M295 212.5H296M296 213.5H298M298 214.5H299M299 215.5H301M301 216.5H302M302 217.5H303M303 218.5H305M305 219.5H306M306 220.5H308M308 221.5H309M309 222.5H310M310 223.5H312M312 224.5H313M313 225.5H315M315 226.5H316M316 227.5H317M317 228.5H319M319 229.5H320M320 230.5H322M322 231.5H323M323 232.5H324M324 233.5H326M326 234.5H327M327 235.5H329M329 236.5H330M330 237.5H331M331 238.5H333M333 239.5H334M334 240.5H335M335 241.5H337M337 242.5H338M338 243.5H340M340 244.5H341M341 245.5H342M342 246.5H344M344 247.5H345M345 248.5H347M347 249.5H348M348 250.5H349M349 251.5H351M351 252.5H352M352 253.5H354M354 254.5H355M355 255.5H356M356 256.5H358M358 257.5H359M359 258.5H361M361 259.5H362M362 260.5H363M363 261.5H365M365 262.5H366M366 263.5H367M367 264.5H369M369 265.5H370M370 266.5H372M372 267.5H373M373 268.5H374M374 269.5H376M376 270.5H377M377 271.5H379M379 272.5H380M380 273.5H381M381 274.5H383M383 275.5H384M384 276.5H386M386 277.5H387M387 278.5H388M388 279.5H390M390 280.5H391M391 281.5H393M393 282.5H394M394 283.5H395M395 284.5H397M397 285.5H398M398 286.5H400M400 287.5H401M401 288.5H402M402 289.5H404M404 290.5H405M405 291.5H406M406 292.5H408M408 293.5H409M409 294.5H411M411 295.5H412M412 296.5H413M413 297.5H415M415 298.5H416M416 299.5H418M418 300.5H419"/>
</g>
<g shape-rendering="crispEdges">
<rect x="2" y="2" width="1" height="478" fill="#000"/>
<rect x="2" y="162" width="655" height="3" fill="#ff0000"/>
<path d="M367 313.5H368M368 312.5H369M369 311.5H371M371 310.5H373M373 309.5H375M375 308.5H376M376 307.5H378M378 306.5H380M380 305.5H382M382 304.5H383M383 303.5H385M385 302.5H387M387 301.5H389M389 300.5H390M390 299.5H392M392 298.5H394M394 297.5H396M396 296.5H397M397 295.5H399M399 294.5H401M401 293.5H403M403 292.5H404M404 291.5H406M406 290.5H408M408 289.5H410M410 288.5H411M411 287.5H413M413 286.5H415M415 285.5H417M417 284.5H418M418 283.5H420M420 282.5H422M422 281.5H424M424 280.5H426M426 279.5H427M427 278.5H429M429 277.5H431M431 276.5H433M433 275.5H434M434 274.5H436M436 273.5H438M438 272.5H440M440 271.5H441M441 270.5H443M443 269.5H445M445 268.5H447M447 267.5H448M448 266.5H450M450 265.5H452M452 264.5H454M454 263.5H455M455 262.5H457M457 261.5H459M459 260.5H461M461 259.5H462M462 258.5H464M464 257.5H466M466 256.5H468M468 255.5H469M469 254.5H471M471 253.5H473M473 252.5H475M475 251.5H476M476 250.5H478M478 249.5H480M480 248.5H482M482 247.5H484M484 246.5H485M485 245.5H487M487 244.5H489M489 243.5H491M491 242.5H492M492 241.5H494M494 240.5H496M496 239.5H498M498 238.5H499M499 237.5H501M501 236.5H503M503 235.5H505M505 234.5H506M506 233.5H508M508 232.5H510M510 231.5H512M512 230.5H513M513 229.5H515M515 228.5H517M517 227.5H519M519 226.5H520M520 225.5H522M522 224.5H524M524 223.5H526M526 222.5H527M527 221.5H529M529 220.5H531M531 219.5H533M533 218.5H535M535 217.5H536M536 216.5H538M538 215.5H540M540 214.5H542M542 213.5H543M543 212.5H545M545 211.5H547M547 210.5H549M549 209.5H550M550 208.5H552M552 207.5H554M554 206.5H556M556 205.5H557M557 204.5H559M559 203.5H561M561 202.5H563M563 201.5H564M564 200.5H566M566 199.5H568M568 198.5H570M570 197.5H571M571 196.5H573M573 195.5H575M575 194.5H577M577 193.5H578M578 192.5H580M580 191.5H582M582 190.5H584M584 189.5H585M585 188.5H587M587 187.5H589M589 186.5H591M591 185.5H593M593 184.5H594M594 183.5H596M596 182.5H598M598 181.5H600M600 180.5H601M601 179.5H603M603 178.5H605M605 177.5H607M607 176.5H608M608 175.5H610M610 174.5H612M612 173.5H614M614 172.5H615M615 171.5H617M617 170.5H619M619 169.5H621M621 168.5H622M622 167.5H624M624 166.5H626M626 165.5H628M628 164.5H629M629 163.5H631M631 162.5H633M633 161.5H635M635 160.5H636M636 159.5H638M638 158.5H640M640 157.5H642M642 156.5H644M644 155.5H645M645 154.5H647" stroke="#0000ff" stroke-width="1" fill="none"/>
<rect x="2" y="16" width="655" height="3" fill="#ff0000"/>
<rect x="2" y="58" width="655" height="3" fill="#ff0000"/>
<rect x="2" y="79" width="655" height="3" fill="#ff0000"/>
<rect x="2" y="121" width="655" height="3" fill="#ff0000"/>
<rect x="2" y="204" width="655" height="3" fill="#32cd32"/>
<rect x="2" y="2" width="653" height="1" fill="#000"/>
<rect x="654" y="2" width="1" height="478" fill="#000"/>
<rect x="2" y="418" width="653" height="1" fill="#000"/>
<rect x="2" y="419" width="653" height="1" fill="#fff"/>
<rect x="2" y="420" width="653" height="1" fill="#000"/>
<rect x="2" y="479" width="653" height="1" fill="#000"/>
<rect x="655" y="19" width="2" height="1" fill="#000"/>
<rect x="655" y="52" width="2" height="1" fill="#000"/>
<rect x="655" y="85" width="2" height="1" fill="#000"/>
<rect x="655" y="118" width="2" height="1" fill="#000"/>
<rect x="655" y="151" width="2" height="1" fill="#000"/>
<rect x="655" y="184" width="2" height="1" fill="#000"/>
<rect x="655" y="217" width="2" height="1" fill="#000"/>
<rect x="655" y="250" width="2" height="1" fill="#000"/>
<rect x="655" y="283" width="2" height="1" fill="#000"/>
<rect x="655" y="316" width="2" height="1" fill="#000"/>
<rect x="655" y="349" width="2" height="1" fill="#000"/>
<rect x="655" y="382" width="2" height="1" fill="#000"/>
<rect x="655" y="415" width="2" height="1" fill="#000"/>
<rect x="3" y="480" width="1" height="4" fill="#000"/>
<rect x="67" y="480" width="1" height="4" fill="#000"/>
<rect x="131" y="480" width="1" height="4" fill="#000"/>
<rect x="195" y="480" width="1" height="4" fill="#000"/>
<rect x="259" y="480" width="1" height="4" fill="#000"/>
<rect x="323" y="480" width="1" height="4" fill="#000"/>
<rect x="387" y="480" width="1" height="4" fill="#000"/>
<rect x="451" y="480" width="1" height="4" fill="#000"/>
<rect x="515" y="480" width="1" height="4" fill="#000"/>
<rect x="579" y="480" width="1" height="4" fill="#000"/>
</g>
<polyline fill="none" stroke="#1e90ff" stroke-width="1.05" stroke-linejoin="round" points="3,475.7 6.7,476.9 10.8,474.7 15.6,470.4 19.2,469.9 22.8,468.5 28.8,468 32.4,467.3 36,469.2 39.6,468.2 50.4,468.2 58.8,464.4 62.9,464.9 66.7,464.2 72,466.8 76.8,469.4 80.4,469.2 84,467.5 87.6,468.5 92.4,470.4 98.4,470.6 103.7,467.5 110.4,469.4 114.7,468.5 119.5,468.7 124.8,470.6 130.8,469.7 136.8,467.3 146.4,462.7 151.2,462.2 155.5,460.3 159.6,462 163.6,461.3 168.4,461.8 172,463.4 180.4,463.2 182.8,462.2 188.8,462.5 192.4,464.6 195.5,469.2 198.4,467.5 204.4,467 208,466.1 210.9,467 215.2,465.1 219.5,463.9 224.8,460.1 228.4,458.4 236.8,458.4 239.7,459.4 242.8,458.4 252.4,458.4 256,460.3 260.8,461.3 266.8,463.2 270.4,462.2 275.2,464.6 280,466.1 287.2,468 290.8,468 296.8,465.6 302.8,464.4 307.6,459.6 311.2,458.4 317.2,458.6 319.6,460.1 323.6,457.7 327.2,458.4 332,458.2 336.8,457 342.8,455.5 347.6,455.5 351.2,457 355.5,458.4 360.8,458.4 368,461.3 370.9,461.3 375.2,457.4 379.5,461.3 382.9,460.1 386.7,460.8 392,463.9 396.3,466.1 402.8,464.4 406.4,464.2 411.2,462.5 416,462.2 419.6,461.3 423.7,463.2 428,458.9 431.6,457.2 436.4,454.3 439.3,455.5 443.6,445.2 448.4,435.6 451.5,433.7 454.4,431.3 459.2,429.6 464,426.5 467.6,427.4 471.2,426.5 476,426.2 479.6,424.3 483.6,425.3 487.7,431.3 490.8,430.3 495.6,430.3 501.6,442.8 506.4,448.3 511.2,451.2 515.5,448.3 519.6,450 523.7,448.3 530.4,450.2 535.7,450.5 540,452.2 543.6,452.4 548.4,454.3 552,454.3 554.4,453.6 559.2,453.4 564,452.2 572.4,456.2 576,456.5 583.7,459.6 586.8,458.4 590.4,458.9 595.2,461.3 599.3,458.4 603.6,458.2 609.6,456.7 615.6,455.3 619.7,450.5 626.9,450.5"/>
<text x="660" y="22.8" textLength="33" lengthAdjust="spacingAndGlyphs" fill="#000" stroke="#000">3494.05</text>
<text x="660" y="55.8" textLength="33" lengthAdjust="spacingAndGlyphs" fill="#000" stroke="#000">3332.55</text>
<text x="660" y="88.8" textLength="33" lengthAdjust="spacingAndGlyphs" fill="#000" stroke="#000">3175.80</text>
<text x="660" y="121.8" textLength="33" lengthAdjust="spacingAndGlyphs" fill="#000" stroke="#000">3019.05</text>
<text x="660" y="154.8" textLength="33" lengthAdjust="spacingAndGlyphs" fill="#000" stroke="#000">2857.55</text>
<text x="660" y="187.8" textLength="33" lengthAdjust="spacingAndGlyphs" fill="#000" stroke="#000">2700.80</text>
<text x="660" y="220.8" textLength="33" lengthAdjust="spacingAndGlyphs" fill="#000" stroke="#000">2544.05</text>
<text x="660" y="253.8" textLength="33" lengthAdjust="spacingAndGlyphs" fill="#000" stroke="#000">2382.55</text>
<text x="660" y="286.8" textLength="33" lengthAdjust="spacingAndGlyphs" fill="#000" stroke="#000">2225.80</text>
<text x="660" y="319.8" textLength="33" lengthAdjust="spacingAndGlyphs" fill="#000" stroke="#000">2069.05</text>
<text x="660" y="352.8" textLength="33" lengthAdjust="spacingAndGlyphs" fill="#000" stroke="#000">1907.55</text>
<text x="660" y="385.8" textLength="33" lengthAdjust="spacingAndGlyphs" fill="#000" stroke="#000">1750.80</text>
<text x="660" y="418.8" textLength="33" lengthAdjust="spacingAndGlyphs" fill="#000" stroke="#000">1594.05</text>
<text x="658.5" y="431" textLength="37" lengthAdjust="spacingAndGlyphs" fill="#000" stroke="#000">166.9699</text>
<text x="658" y="476" textLength="33" lengthAdjust="spacingAndGlyphs" fill="#000" stroke="#000">63.2273</text>
<rect x="656" y="11" width="41" height="11" fill="#ff0000" shape-rendering="crispEdges"/>
<text x="660" y="19.9" textLength="33" lengthAdjust="spacingAndGlyphs" fill="#fff" stroke="#fff">3500.00</text>
<rect x="656" y="53" width="41" height="11" fill="#ff0000" shape-rendering="crispEdges"/>
<text x="660" y="61.9" textLength="33" lengthAdjust="spacingAndGlyphs" fill="#fff" stroke="#fff">3300.00</text>
<rect x="656" y="74" width="41" height="11" fill="#ff0000" shape-rendering="crispEdges"/>
<text x="660" y="82.9" textLength="33" lengthAdjust="spacingAndGlyphs" fill="#fff" stroke="#fff">3200.00</text>
<rect x="656" y="116" width="41" height="11" fill="#ff0000" shape-rendering="crispEdges"/>
<text x="660" y="124.9" textLength="33" lengthAdjust="spacingAndGlyphs" fill="#fff" stroke="#fff">3000.00</text>
<rect x="656" y="157" width="41" height="11" fill="#ff0000" shape-rendering="crispEdges"/>
<text x="660" y="165.9" textLength="33" lengthAdjust="spacingAndGlyphs" fill="#fff" stroke="#fff">2800.00</text>
<rect x="656" y="199" width="41" height="11" fill="#32cd32" shape-rendering="crispEdges"/>
<text x="660" y="207.9" textLength="33" lengthAdjust="spacingAndGlyphs" fill="#fff" stroke="#fff">2600.00</text>
<rect x="656" y="283" width="41" height="11" fill="#ff4500" shape-rendering="crispEdges"/>
<text x="660" y="291.9" textLength="33" lengthAdjust="spacingAndGlyphs" fill="#fff" stroke="#fff">2194.05</text>
<rect x="656" y="38" width="41" height="11" fill="#000000" shape-rendering="crispEdges"/>
<text x="660" y="46.9" textLength="33" lengthAdjust="spacingAndGlyphs" fill="#fff" stroke="#fff">3377.02</text>
<text x="7" y="14" textLength="73.5" lengthAdjust="spacingAndGlyphs" fill="#000" stroke="#000">WIG20_T,Weekly</text>
<text x="88.1" y="14" textLength="32" lengthAdjust="spacingAndGlyphs" fill="#000" stroke="#000">3366.73</text>
<text x="123.95" y="14" textLength="32" lengthAdjust="spacingAndGlyphs" fill="#000" stroke="#000">3407.81</text>
<text x="159.8" y="14" textLength="32" lengthAdjust="spacingAndGlyphs" fill="#000" stroke="#000">3306.56</text>
<text x="195.65" y="14" textLength="32" lengthAdjust="spacingAndGlyphs" fill="#000" stroke="#000">3377.02</text>
<text x="7.5" y="432.7" textLength="34.2" lengthAdjust="spacingAndGlyphs" fill="#000" stroke="#000">ATR(14)</text>
<text x="45.6" y="432.7" textLength="37.2" lengthAdjust="spacingAndGlyphs" fill="#000" stroke="#000">114.5714</text>
<text x="2.6" y="491.8" textLength="51.3" lengthAdjust="spacingAndGlyphs" fill="#000" stroke="#000">19 Feb 2023</text>
<text x="66.6" y="491.8" textLength="48.8" lengthAdjust="spacingAndGlyphs" fill="#000" stroke="#000">11 Jun 2023</text>
<text x="130.6" y="491.8" textLength="44.6" lengthAdjust="spacingAndGlyphs" fill="#000" stroke="#000">1 Oct 2023</text>
<text x="194.6" y="491.8" textLength="49.6" lengthAdjust="spacingAndGlyphs" fill="#000" stroke="#000">21 Jan 2024</text>
<text x="258.6" y="491.8" textLength="54" lengthAdjust="spacingAndGlyphs" fill="#000" stroke="#000">12 May 2024</text>
<text x="322.6" y="491.8" textLength="46.2" lengthAdjust="spacingAndGlyphs" fill="#000" stroke="#000">1 Sep 2024</text>
<text x="386.6" y="491.8" textLength="51.6" lengthAdjust="spacingAndGlyphs" fill="#000" stroke="#000">22 Dec 2024</text>
<text x="450.6" y="491.8" textLength="49.6" lengthAdjust="spacingAndGlyphs" fill="#000" stroke="#000">13 Apr 2025</text>
<text x="514.6" y="491.8" textLength="47.1" lengthAdjust="spacingAndGlyphs" fill="#000" stroke="#000">3 Aug 2025</text>
<text x="578.6" y="491.8" textLength="53" lengthAdjust="spacingAndGlyphs" fill="#000" stroke="#000">23 Nov 2025</text>
</svg></body></html>
